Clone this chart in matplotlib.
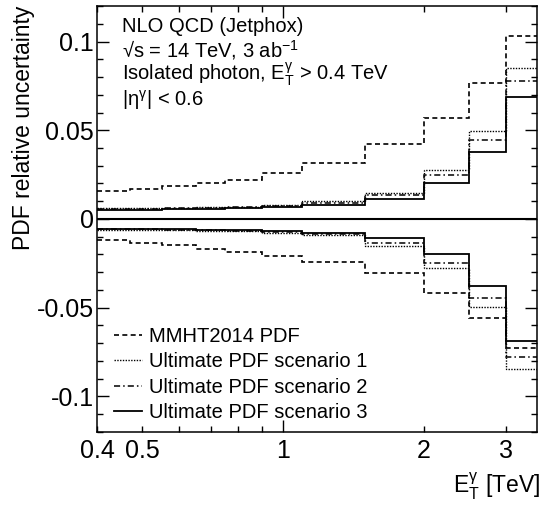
import matplotlib
matplotlib.use('Agg')
import matplotlib.pyplot as plt
from matplotlib.ticker import FixedLocator, FixedFormatter

plt.rcParams['font.family'] = ['Liberation Sans', 'DejaVu Sans']
plt.rcParams['mathtext.fontset'] = 'custom'
plt.rcParams['mathtext.rm'] = 'Liberation Sans'
plt.rcParams['mathtext.it'] = 'Liberation Sans'
plt.rcParams['mathtext.default'] = 'rm'

# bin edges in TeV
edges = [0.4, 0.47, 0.55, 0.65, 0.75, 0.9, 1.1, 1.5, 2.0, 2.5, 3.0, 3.5]

# upper uncertainties
mmht_up = [0.0155, 0.0168, 0.0186, 0.0200, 0.0220, 0.0259, 0.0316, 0.0424, 0.0570, 0.0765, 0.1030]
sc1_up = [0.0060, 0.0061, 0.0063, 0.0066, 0.0069, 0.0078, 0.0100, 0.0148, 0.0278, 0.0497, 0.0849]
sc2_up = [0.0057, 0.0058, 0.0060, 0.0063, 0.0066, 0.0073, 0.0091, 0.0137, 0.0248, 0.0446, 0.0779]
sc3_up = [0.0052, 0.0053, 0.0055, 0.0058, 0.0060, 0.0066, 0.0078, 0.0111, 0.0204, 0.0375, 0.0687]

# lower uncertainties
mmht_dn = [-0.0120, -0.0134, -0.0147, -0.0171, -0.0188, -0.0207, -0.0242, -0.0307, -0.0416, -0.0556, -0.0725]
sc1_dn = [-0.0060, -0.0061, -0.0063, -0.0067, -0.0070, -0.0078, -0.0090, -0.0152, -0.0276, -0.0495, -0.0846]
sc2_dn = [-0.0058, -0.0059, -0.0061, -0.0065, -0.0068, -0.0075, -0.0086, -0.0135, -0.0248, -0.0447, -0.0776]
sc3_dn = [-0.0055, -0.0056, -0.0058, -0.0062, -0.0065, -0.0070, -0.0077, -0.0110, -0.0200, -0.0376, -0.0686]

labels = ['MMHT2014 PDF', 'Ultimate PDF scenario 1', 'Ultimate PDF scenario 2', 'Ultimate PDF scenario 3']
styles = [(0, (3, 2)), (0, (1, 1)), (0, (4, 2, 1, 2)), '-']
widths = [1.2, 1.0, 1.1, 1.3]

fig = plt.figure(figsize=(5.42, 5.08), dpi=100)
ax = fig.add_axes([0.179, 0.150, 0.812, 0.838])

ups = [mmht_up, sc1_up, sc2_up, sc3_up]
dns = [mmht_dn, sc1_dn, sc2_dn, sc3_dn]
handles = []
for up, dn, ls, lw, lab in zip(ups, dns, styles, widths, labels):
    ax.stairs(up, edges, baseline=None, color='black', linestyle=ls, linewidth=lw, label=lab)
    ax.stairs(dn, edges, baseline=None, color='black', linestyle=ls, linewidth=lw)
    handles.append(plt.Line2D([], [], color='black', linestyle=ls, linewidth=lw))

ax.axhline(0, color='black', linewidth=1.5)

ax.set_xscale('log')
ax.set_xlim(0.4, 3.5)
ax.set_ylim(-0.12, 0.12)

# x ticks (root style)
ax.xaxis.set_major_locator(FixedLocator([1]))
ax.xaxis.set_major_formatter(FixedFormatter(['1']))
xminor = [0.4, 0.5, 0.6, 0.7, 0.8, 0.9, 2, 3]
ax.xaxis.set_minor_locator(FixedLocator(xminor))
ax.xaxis.set_minor_formatter(FixedFormatter(['0.4', '0.5', '', '', '', '', '2', '3']))

ax.set_yticks([-0.1, -0.05, 0, 0.05, 0.1])
ax.set_yticklabels(['-0.1', '-0.05', '0', '0.05', '0.1'])
ax.set_yticks([i * 0.01 for i in range(-12, 13)], minor=True)

ax.tick_params(which='both', direction='in', top=True, right=True, labelsize=18, width=1.0)
ax.tick_params(which='major', length=8.5)
ax.tick_params(which='minor', length=4.3)
ax.tick_params(axis='x', which='both', pad=5)
ax.tick_params(axis='y', which='both', pad=2)
for s in ax.spines.values():
    s.set_linewidth(1.1)

fig.text(0.044, 0.988, 'PDF relative uncertainty', rotation=90, ha='center', va='top', fontsize=16.5)
fig.text(0.996, 0.012, r'E$_\mathrm{T}^{\gamma}$ [TeV]', ha='right', va='bottom', fontsize=16.5)

# labels
txt_x = 0.056
ax.text(txt_x, 0.94, 'NLO QCD (Jetphox)', transform=ax.transAxes, fontsize=14.5)
ax.text(txt_x, 0.88, '√s = 14 TeV, 3 ab$^{-1}$', transform=ax.transAxes, fontsize=14.5)
ax.text(txt_x, 0.825, r'Isolated photon, E$_\mathrm{T}^{\gamma}$ > 0.4 TeV', transform=ax.transAxes, fontsize=14.5)
ax.text(txt_x, 0.766, r'|η$^{\gamma}$| < 0.6', transform=ax.transAxes, fontsize=14.5)

ax.legend(handles, labels, loc='lower left', bbox_to_anchor=(0.02, 0.004), frameon=False,
          fontsize=14.5, handlelength=1.4, handletextpad=0.35, labelspacing=0.32, borderaxespad=0)

fig.savefig('out.png', dpi=100)
